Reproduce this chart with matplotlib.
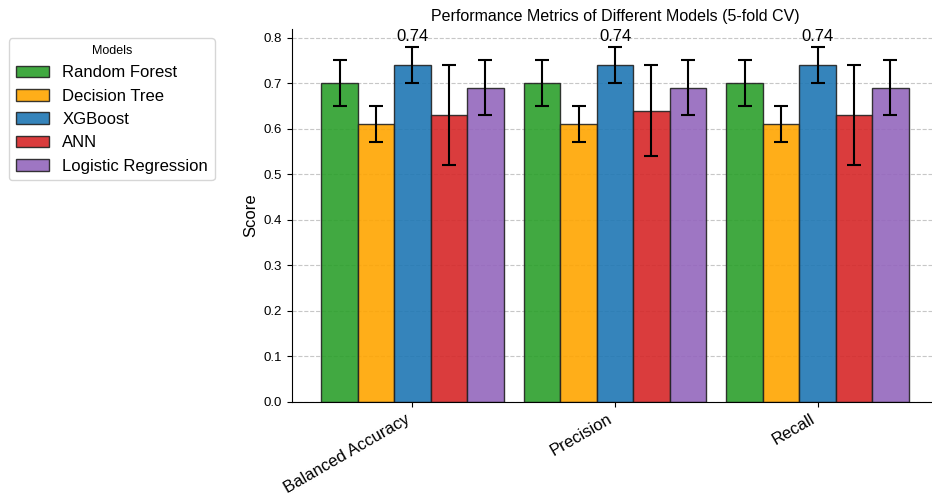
import numpy as np
import matplotlib
matplotlib.use("Agg")
import matplotlib.pyplot as plt

plt.rcParams['font.family'] = ['Liberation Sans', 'DejaVu Sans']

metrics = ["Balanced Accuracy", "Precision", "Recall"]
models = ["Random Forest", "Decision Tree", "XGBoost", "ANN", "Logistic Regression"]
colors = ["#2ca02c", "orange", "#1f77b4", "#d62728", "#9467bd"]

# mean scores per model, one value per metric
rf_mean = [0.70, 0.70, 0.70]
dt_mean = [0.61, 0.61, 0.61]
xgb_mean = [0.74, 0.74, 0.74]
ann_mean = [0.63, 0.64, 0.63]
lr_mean = [0.69, 0.69, 0.69]

# standard deviation across folds
rf_std = [0.05, 0.05, 0.05]
dt_std = [0.04, 0.04, 0.04]
xgb_std = [0.04, 0.04, 0.04]
ann_std = [0.11, 0.10, 0.11]
lr_std = [0.06, 0.06, 0.06]

means = [rf_mean, dt_mean, xgb_mean, ann_mean, lr_mean]
stds = [rf_std, dt_std, xgb_std, ann_std, lr_std]

fig = plt.figure(figsize=(9.32, 4.96), dpi=100)
ax = fig.add_axes([292/932, 1 - 402/496, (938 - 292)/932, (402 - 29)/496])

x = np.arange(len(metrics))
width = 0.18
handles = []
for i, (name, col, m, s) in enumerate(zip(models, colors, means, stds)):
    pos = x + (i - 2) * width
    bars = ax.bar(pos, m, width, yerr=s, capsize=5, color=col, alpha=0.9,
                  edgecolor="#222222", linewidth=1.0, label=name,
                  error_kw=dict(ecolor="black", elinewidth=1.5, capthick=1.5))
    handles.append(bars)

# label the best model in each metric group
for j in range(len(metrics)):
    best = int(np.argmax([m[j] for m in means]))
    top = means[best][j] + stds[best][j]
    ax.annotate(f"{means[best][j]:.2f}", (x[j] + (best - 2) * width, top),
                xytext=(0, 2), textcoords="offset points",
                ha="center", va="bottom", fontsize=12)

ax.set_xticks(x)
ax.set_xticklabels(metrics, rotation=30, ha="right", fontsize=12)
ax.tick_params(axis="y", labelsize=9.5)
ax.set_ylabel("Score", fontsize=12)
ax.set_title("Performance Metrics of Different Models (5-fold CV)", fontsize=11.5)
ax.yaxis.grid(True, linestyle="--", alpha=0.7)
ax.set_axisbelow(True)
ax.spines["top"].set_visible(False)
ax.spines["right"].set_visible(False)

fig.legend(handles=handles, labels=models, title="Models", fontsize=12,
           title_fontsize=9, loc="upper left",
           bbox_to_anchor=(0.5/932, 1 - 30/496))

fig.savefig("out.png", dpi=100)
